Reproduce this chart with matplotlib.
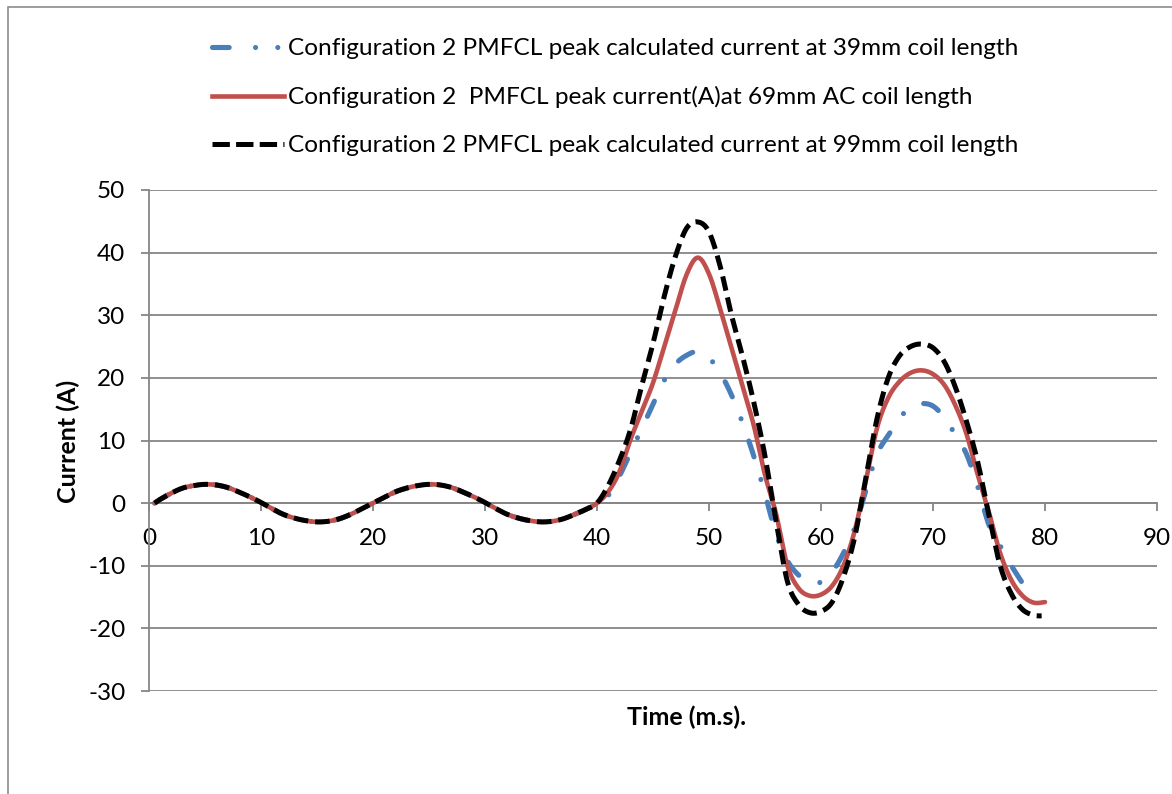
import matplotlib
matplotlib.use("Agg")
import numpy as np
import matplotlib.pyplot as plt
from matplotlib.lines import Line2D
from matplotlib.patches import Rectangle

plt.rcParams['font.family'] = ['Lato', 'DejaVu Sans']
plt.rcParams['lines.scale_dashes'] = False

# Common low-current oscillation before the fault (0-40 ms)
t_pre = [0.5, 1, 2, 3, 4, 5, 6, 7, 8, 9, 10, 11, 12, 13, 14, 15, 16, 17, 18, 19, 20,
         21, 22, 23, 24, 25, 26, 27, 28, 29, 30, 31, 32, 33, 34, 35, 36, 37, 38, 39, 40]
i_pre = [0.0, 0.6, 1.6, 2.4, 2.8, 3.0, 2.9, 2.5, 1.8, 1.0, 0.1, -0.9, -1.8, -2.4, -2.8, -3.0,
         -2.9, -2.5, -1.8, -0.9, 0.0, 0.9, 1.8, 2.4, 2.8, 3.0, 2.9, 2.5, 1.8, 1.0, 0.1,
         -0.9, -1.8, -2.4, -2.8, -3.0, -2.9, -2.5, -1.8, -1.0, 0.0]

# Fault period, 39 mm coil
t_39 = [41, 42, 43, 44, 45, 46, 47, 48, 49, 50, 51, 52, 53, 54, 55, 56, 57, 58, 59, 60,
        61, 62, 63, 64, 65, 66, 67, 68, 69, 70, 71, 72, 73, 74, 75, 76, 77, 78]
i_39 = [1.2, 4.3, 8.1, 11.9, 15.8, 19.6, 22.2, 23.6, 24.2, 23.2, 20.8, 17.3, 12.8, 7.5,
        1.5, -5.0, -9.2, -11.5, -12.7, -12.6, -11.0, -8.0, -4.0, 2.0, 7.8, 10.8, 13.5,
        15.4, 15.9, 15.5, 13.7, 10.9, 7.8, 2.6, -3.5, -6.8, -10.0, -12.8]

# Fault period, 69 mm AC coil
t_69 = [41, 42, 43, 44, 45, 46, 47, 48, 49, 50, 51, 52, 53, 54, 55, 56, 57, 58,
        59, 60, 61, 62, 63, 64, 65, 66, 67, 68, 69, 70, 71, 72, 73, 74, 75, 76, 77, 78,
        79, 80]
i_69 = [1.8, 5.0, 10.2, 14.7, 19.2, 25.0, 30.8, 36.5, 39.2, 36.6, 31.0, 24.8,
        18.6, 12.4, 4.5, -1.8, -10.0, -13.6, -14.8, -14.6, -13.2, -10.0, -4.5, 3.5, 12.0,
        16.8, 19.4, 20.8, 21.2, 20.6, 18.9, 15.6, 11.0, 4.5, -1.5, -8.0, -12.3, -14.8,
        -15.9, -15.8]

# Fault period, 99 mm coil
t_99 = [41, 42, 43, 44, 45, 46, 47, 48, 49, 50, 51, 52, 53, 54, 55, 56, 57, 58,
        59, 60, 61, 62, 63, 64, 65, 66, 67, 68, 69, 70, 71, 72, 73, 74, 75, 76, 77, 78,
        79, 79.7]
i_99 = [2.8, 6.8, 11.8, 18.8, 25.5, 33.0, 39.4, 43.9, 44.9, 43.3, 37.8, 30.1,
        23.4, 16.1, 7.5, -3.0, -12.5, -16.2, -17.5, -17.3, -15.8, -11.8, -5.5, 4.0, 13.5,
        20.0, 23.5, 25.0, 25.4, 24.8, 22.6, 18.5, 13.0, 6.5, -2.0, -10.0, -14.5, -17.0,
        -17.9, -18.0]

labels = [
    "Configuration 2 PMFCL peak calculated current at 39mm coil length",
    "Configuration 2  PMFCL peak current(A)at 69mm AC coil length",
    "Configuration 2 PMFCL peak calculated current at 99mm coil length",
]
colors = ["#4A7EBB", "#C0504D", "#000000"]

x_ticks = [0, 10, 20, 30, 40, 50, 60, 70, 80, 90]
y_ticks = [-30, -20, -10, 0, 10, 20, 30, 40, 50]


def smooth(xs, ys, n=10):
    """Catmull-Rom curve through the samples (spreadsheet-style smoothed line)."""
    p = np.column_stack([xs, ys]).astype(float)
    p = np.vstack([p[0], p, p[-1]])
    s = np.linspace(0, 1, n, endpoint=False)[:, None]
    out = []
    for k in range(1, len(p) - 2):
        p0, p1, p2, p3 = p[k - 1], p[k], p[k + 1], p[k + 2]
        seg = 0.5 * ((2 * p1) + (-p0 + p2) * s + (2 * p0 - 5 * p1 + 4 * p2 - p3) * s ** 2
                     + (-p0 + 3 * p1 - 3 * p2 + p3) * s ** 3)
        out.append(seg)
    out.append(p[-2][None, :])
    c = np.vstack(out)
    return c[:, 0], c[:, 1]


W, H = 1172, 794
fig = plt.figure(figsize=(W / 100, H / 100), dpi=100)
fig.patch.set_facecolor("white")

# outer chart frame
fig.patches.append(Rectangle((8 / W, -0.05), 1.2, 1 - 7 / H + 0.05,
                             transform=fig.transFigure, fill=False,
                             edgecolor="#8c8c8c", linewidth=1.2))

ax = fig.add_axes([149 / W, 1 - 691 / H, (1157 - 149) / W, (691 - 190) / H])

grey = "#868686"
blue_lw = 3.7
dash_dot = (0, (12.0, 17.0, 0.01, 17.0))

x, y = smooth(t_pre + t_39, i_pre + i_39)
ax.plot(x, y, color=colors[0], lw=blue_lw, linestyle=dash_dot, dash_capstyle="round", zorder=3)
x, y = smooth(t_pre + t_69, i_pre + i_69)
ax.plot(x, y, color=colors[1], lw=3.3, solid_capstyle="round",
        solid_joinstyle="round", zorder=4)
x, y = smooth(t_pre + t_99, i_pre + i_99)
ax.plot(x, y, color=colors[2], lw=3.6, linestyle=(0, (10.5, 5.0)),
        dash_capstyle="butt", zorder=5)

ax.set_xlim(0, 90)
ax.set_ylim(-30, 50)
ax.set_xticks(x_ticks)
ax.set_yticks(y_ticks)
ax.set_xticklabels([str(v) for v in x_ticks])
ax.set_yticklabels([str(v) for v in y_ticks])

ax.yaxis.grid(True, color=grey, linewidth=1.3)
ax.xaxis.grid(False)
ax.set_axisbelow(True)

for side in ("top", "right"):
    ax.spines[side].set_visible(False)
ax.spines["left"].set_color(grey)
ax.spines["left"].set_linewidth(1.3)
ax.spines["bottom"].set_position(("data", 0))
ax.spines["bottom"].set_color(grey)
ax.spines["bottom"].set_linewidth(1.3)

ax.tick_params(axis="x", direction="out", length=6, width=1.3, color=grey,
               labelsize=17.5, pad=12, labelcolor="black")
ax.tick_params(axis="y", direction="out", length=6, width=1.3, color=grey,
               labelsize=17.5, pad=11, labelcolor="black")

fig.text(68 / W, 1 - 441 / H, "Current (A)", rotation=90, ha="center", va="center",
         fontsize=18, fontweight="bold")
fig.text(687 / W, 1 - 717 / H, "Time (m.s).", ha="center", va="center",
         fontsize=18, fontweight="bold")

handles = [
    Line2D([], [], color=colors[0], lw=blue_lw,
           linestyle=(0, (12.0, 19.0, 0.01, 16.0, 0.01, 30)), dash_capstyle="round"),
    Line2D([], [], color=colors[1], lw=3.3),
    Line2D([], [], color=colors[2], lw=3.6, linestyle=(0, (12.5, 4.5)), dash_capstyle="butt"),
]
fig.legend(handles, labels, loc="upper left", bbox_to_anchor=(212 / W, 1 - 38 / H),
           bbox_transform=fig.transFigure, frameon=False, fontsize=17.6,
           handlelength=2.95, handletextpad=0.17, labelspacing=1.1,
           borderpad=0, borderaxespad=0)

fig.savefig("out.png", dpi=100, facecolor="white")
